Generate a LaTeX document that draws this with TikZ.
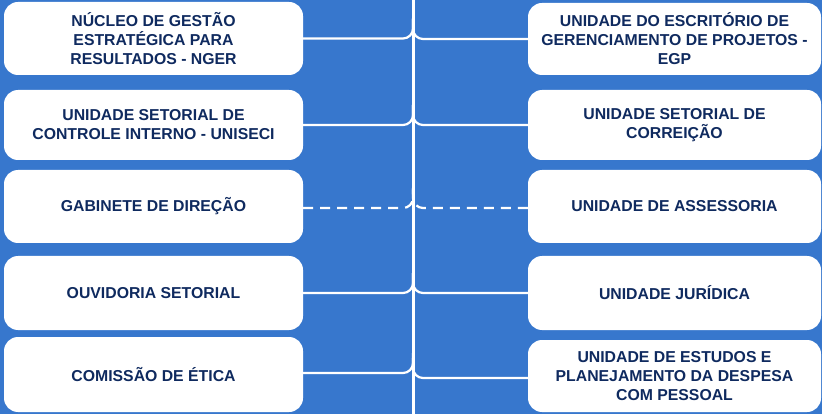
\documentclass[tikz,border=0pt]{standalone}
\usepackage{fontspec}
\setmainfont{Liberation Sans}
\definecolor{bgblue}{HTML}{3777CD}
\definecolor{navy}{HTML}{0F2A5F}
\begin{document}
\begin{tikzpicture}[x=1pt,y=-1pt,
  box/.style={fill=white, draw=none, rounded corners=14pt, inner sep=0pt,
    align=center, text=navy, font=\bfseries\fontsize{15.8}{19}\selectfont},
  lbox/.style={box, minimum width=299pt},
  rbox/.style={box, minimum width=293pt},
  conn/.style={draw=white, line width=2.2pt, rounded corners=10pt},
  dconn/.style={conn, dash pattern=on 10pt off 7pt},
  spine/.style={draw=white, line width=3pt}]
\fill[bgblue] (0,0) rectangle (822,414);
\useasboundingbox (0,0) rectangle (822,414);
\coordinate (sTop) at (413,0);
\coordinate (sBot) at (413,414);
% left boxes
\node[lbox, minimum height=73pt] (l1) at (153.5,38.5) {NÚCLEO DE GESTÃO\\ESTRATÉGICA PARA\\RESULTADOS - NGER};
\node[lbox, minimum height=70pt] (l2) at (153.5,125) {UNIDADE SETORIAL DE\\CONTROLE INTERNO - UNISECI};
\node[lbox, minimum height=73pt] (l3) at (153.5,206.5) {GABINETE DE DIREÇÃO};
\node[lbox, minimum height=74pt] (l4) at (153.5,293) {OUVIDORIA SETORIAL};
\node[lbox, minimum height=75pt] (l5) at (153.5,374.5) {COMISSÃO DE ÉTICA};
% right boxes
\node[rbox, minimum height=72pt] (r1) at (674.5,39) {UNIDADE DO ESCRITÓRIO DE\\GERENCIAMENTO DE PROJETOS -\\EGP};
\node[rbox, minimum height=70pt] (r2) at (674.5,125) {UNIDADE SETORIAL DE\\CORREIÇÃO};
\node[rbox, minimum height=73pt] (r3) at (674.5,206.5) {UNIDADE DE ASSESSORIA};
\node[rbox, minimum height=74pt] (r4) at (674.5,293) {UNIDADE JURÍDICA};
\node[rbox, minimum height=72pt] (r5) at (674.5,376) {UNIDADE DE ESTUDOS E\\PLANEJAMENTO DA DESPESA\\COM PESSOAL};
% connectors
\foreach \n in {1,2,4} {
  \draw[conn] (l\n.east) -- (l\n.east -| sTop) -- ++(0,-20);
  \draw[conn] (r\n.west) -- (r\n.west -| sTop) -- ++(0,-20);
}
\draw[conn] ([yshift=1.5pt]l5.east) -- ([yshift=1.5pt]l5.east -| sTop) -- ++(0,-20);
\draw[conn] ([yshift=-2pt]r5.west) -- ([yshift=-2pt]r5.west -| sTop) -- ++(0,-20);
\draw[dconn] ([yshift=-1.5pt]l3.east) -- ([yshift=-1.5pt]l3.east -| sTop) -- ++(0,-20);
\draw[dconn] ([yshift=-1.5pt]r3.west) -- ([yshift=-1.5pt]r3.west -| sTop) -- ++(0,-20);
\draw[spine] (sTop) -- (sBot);
\end{tikzpicture}
\end{document}
